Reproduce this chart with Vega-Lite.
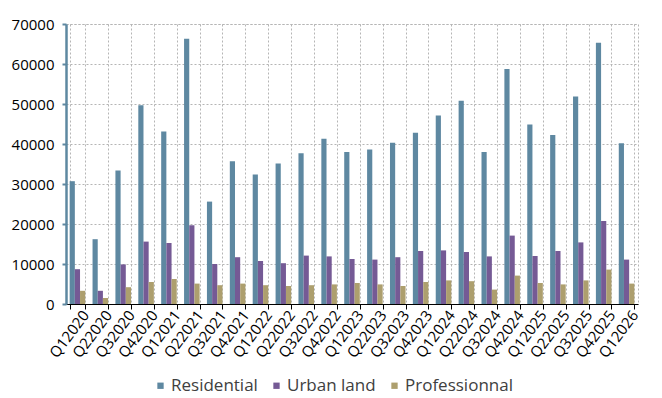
{
  "$schema": "https://vega.github.io/schema/vega-lite/v6.json",
  "width": 572,
  "height": 280,
  "autosize": "none",
  "padding": {"left": 66, "top": 24, "right": 24, "bottom": 94},
  "config": {
    "font": "Open Sans",
    "view": {"stroke": "#b5b5b5", "strokeDash": [2, 2], "strokeWidth": 1}
  },
  "datasets": {
    "d": [
      {"q": "Q12020", "Residential": 30700, "Urban land": 8700, "Professionnal": 3300},
      {"q": "Q22020", "Residential": 16200, "Urban land": 3300, "Professionnal": 1500},
      {"q": "Q32020", "Residential": 33400, "Urban land": 9900, "Professionnal": 4200},
      {"q": "Q42020", "Residential": 49700, "Urban land": 15600, "Professionnal": 5500},
      {"q": "Q12021", "Residential": 43100, "Urban land": 15250, "Professionnal": 6250},
      {"q": "Q22021", "Residential": 66300, "Urban land": 19700, "Professionnal": 5100},
      {"q": "Q32021", "Residential": 25600, "Urban land": 10000, "Professionnal": 4700},
      {"q": "Q42021", "Residential": 35700, "Urban land": 11700, "Professionnal": 5100},
      {"q": "Q12022", "Residential": 32400, "Urban land": 10750, "Professionnal": 4700},
      {"q": "Q22022", "Residential": 35100, "Urban land": 10200, "Professionnal": 4500},
      {"q": "Q32022", "Residential": 37700, "Urban land": 12100, "Professionnal": 4700},
      {"q": "Q42022", "Residential": 41300, "Urban land": 11900, "Professionnal": 4900},
      {"q": "Q12023", "Residential": 38000, "Urban land": 11250, "Professionnal": 5250},
      {"q": "Q22023", "Residential": 38600, "Urban land": 11100, "Professionnal": 4900},
      {"q": "Q32023", "Residential": 40300, "Urban land": 11700, "Professionnal": 4500},
      {"q": "Q42023", "Residential": 42800, "Urban land": 13250, "Professionnal": 5500},
      {"q": "Q12024", "Residential": 47100, "Urban land": 13400, "Professionnal": 5900},
      {"q": "Q22024", "Residential": 50800, "Urban land": 13000, "Professionnal": 5700},
      {"q": "Q32024", "Residential": 38000, "Urban land": 11900, "Professionnal": 3600},
      {"q": "Q42024", "Residential": 58750, "Urban land": 17100, "Professionnal": 7100},
      {"q": "Q12025", "Residential": 44900, "Urban land": 12000, "Professionnal": 5250},
      {"q": "Q22025", "Residential": 42250, "Urban land": 13250, "Professionnal": 4900},
      {"q": "Q32025", "Residential": 51900, "Urban land": 15400, "Professionnal": 5900},
      {"q": "Q42025", "Residential": 65300, "Urban land": 20750, "Professionnal": 8600},
      {"q": "Q12026", "Residential": 40200, "Urban land": 11100, "Professionnal": 5100}
    ]
  },
  "data": {"name": "d"},
  "transform": [
    {"fold": ["Residential", "Urban land", "Professionnal"], "as": ["type", "value"]}
  ],
  "mark": {"type": "bar"},
  "encoding": {
    "x": {
      "field": "q",
      "type": "nominal",
      "sort": null,
      "scale": {"paddingInner": 0.32, "paddingOuter": 0.16},
      "axis": {
        "title": null,
        "labelAngle": -53,
        "labelFontSize": 15,
        "labelColor": "#000000",
        "labelPadding": 3,
        "labelOffset": 8,
        "labelOverlap": false,
        "tickBand": "extent",
        "tickSize": 5,
        "tickColor": "#000000",
        "domainColor": "#000000",
        "domainWidth": 1,
        "grid": true,
        "gridColor": "#b5b5b5",
        "gridDash": [2, 2],
        "gridWidth": 1
      }
    },
    "xOffset": {
      "field": "type",
      "type": "nominal",
      "sort": ["Residential", "Urban land", "Professionnal"],
      "scale": {"paddingInner": 0, "paddingOuter": 0}
    },
    "y": {
      "field": "value",
      "type": "quantitative",
      "scale": {"domain": [0, 70000]},
      "axis": {
        "title": null,
        "values": [0, 10000, 20000, 30000, 40000, 50000, 60000, 70000],
        "format": "d",
        "labelOverlap": false,
        "labelFontSize": 15,
        "labelColor": "#000000",
        "labelPadding": 8,
        "domainColor": "#5e88a1",
        "domainWidth": 2.5,
        "tickColor": "#5e88a1",
        "tickWidth": 2,
        "tickSize": 4,
        "gridColor": "#b5b5b5",
        "gridDash": [2, 2],
        "gridWidth": 1
      }
    },
    "color": {
      "field": "type",
      "type": "nominal",
      "sort": ["Residential", "Urban land", "Professionnal"],
      "scale": {
        "domain": ["Residential", "Urban land", "Professionnal"],
        "range": ["#5e88a1", "#755a95", "#ad9f6e"]
      },
      "legend": {
        "title": null,
        "orient": "none",
        "direction": "horizontal",
        "legendX": 86,
        "legendY": 353,
        "symbolType": "square",
        "symbolSize": 40,
        "symbolStrokeWidth": 0,
        "labelFontSize": 17,
        "labelColor": "#404040",
        "labelOffset": 2,
        "columnPadding": 10
      }
    }
  }
}
